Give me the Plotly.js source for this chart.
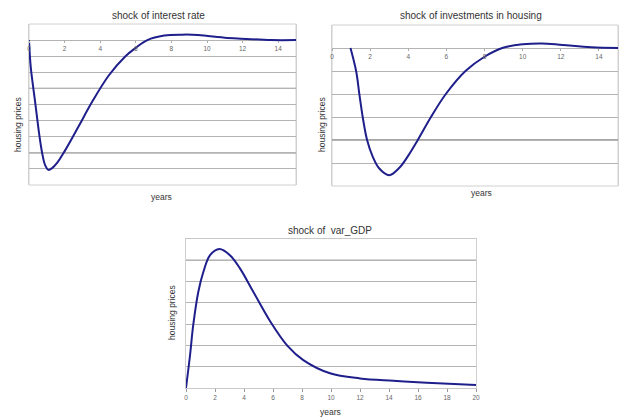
<!DOCTYPE html>
<html><head><meta charset="utf-8">
<script src="https://cdn.plot.ly/plotly-3.0.1.min.js"></script>
<style>html,body{margin:0;padding:0;background:#fff}#c{width:627px;height:418px}</style>
</head><body><div id="c"></div>
<script>
// Chart 1: shock of interest rate
const t1 = [0, 0.1, 0.34, 0.58, 0.72, 0.9, 1.09, 1.3, 1.6, 2.03, 2.79, 3.54, 4.48, 5.42, 6.0, 6.65, 7.6, 8.6, 9.5, 10.05, 11.0, 11.9, 13.6, 15];
const v1 = [0, -1.7, -3.8, -5.9, -6.9, -7.75, -8.06, -7.95, -7.6, -6.85, -5.35, -3.85, -2.2, -1.0, -0.48, 0.0, 0.28, 0.34, 0.32, 0.25, 0.15, 0.09, 0.0, 0.0];
// Chart 2: shock of investments in housing
const t2 = [0.97, 1.27, 1.44, 1.61, 1.84, 2.14, 2.48, 3.0, 3.52, 4.0, 4.5, 5.19, 5.97, 7.0, 8.0, 8.93, 10.0, 11.0, 12.1, 13.6, 15];
const v2 = [0, -1.02, -2.04, -3.0, -4.0, -4.73, -5.24, -5.53, -5.22, -4.68, -4.0, -3.0, -2.0, -1.0, -0.38, 0.0, 0.16, 0.2, 0.13, 0.03, 0.0];
// Chart 3: shock of var_GDP
const t3 = [0, 0.28, 0.5, 0.85, 1.2, 1.66, 2.3, 3.03, 3.72, 4.64, 5.79, 7.0, 8.09, 9.93, 12, 14.3, 16.6, 20];
const v3 = [0, 1.55, 2.96, 4.52, 5.46, 6.24, 6.53, 6.24, 5.62, 4.52, 3.15, 1.98, 1.31, 0.69, 0.45, 0.34, 0.25, 0.14];

const titles = ["shock of interest rate", "shock of investments in housing", "shock of  var_GDP"];
const xTicks12 = [0, 2, 4, 6, 8, 10, 12, 14];
const xTicks3 = [0, 2, 4, 6, 8, 10, 12, 14, 16, 18, 20];
const yRange1 = [-9, 1], yRange2 = [-6, 1], yRange3 = [0, 7];

const W = 627, H = 418;
const dom = (a, b) => [a / W, b / W];
const domY = (top, bot) => [1 - bot / H, 1 - top / H];
const x1d = dom(29, 296), y1d = domY(24, 185);
const x2d = dom(332, 618), y2d = domY(25, 186);
const x3d = dom(186, 476), y3d = domY(239, 388);
const zeroPos = (yd, r) => yd[0] + (0 - r[0]) / (r[1] - r[0]) * (yd[1] - yd[0]);

const lineStyle = {color: '#1f1f8c', width: 2, shape: 'spline', smoothing: 1};
const data = [
  {x: t1, y: v1, xaxis: 'x', yaxis: 'y', mode: 'lines', line: lineStyle, hoverinfo: 'skip'},
  {x: t2, y: v2, xaxis: 'x2', yaxis: 'y2', mode: 'lines', line: lineStyle, hoverinfo: 'skip'},
  {x: t3, y: v3, xaxis: 'x3', yaxis: 'y3', mode: 'lines', line: lineStyle, hoverinfo: 'skip'}
];

const tickFont = {family: 'Liberation Sans, Arial, sans-serif', size: 6.5, color: '#666'};
const xFree = (dm, yd, yr) => ({
  domain: dm, anchor: 'free', position: zeroPos(yd, yr), range: [0, 15],
  tickvals: xTicks12, ticktext: xTicks12.map(String), tickfont: tickFont,
  ticks: 'outside', ticklen: 2, tickcolor: '#aaa', showgrid: false, zeroline: false,
  showline: false, fixedrange: true
});
const yAx = (dm, r, anchor) => ({
  domain: dm, range: r, dtick: 1, showticklabels: false, ticks: '',
  gridcolor: '#b4b4b4', gridwidth: 1, zeroline: false, anchor: anchor,
  showline: true, mirror: true, linecolor: '#d0d0d0', linewidth: 1, fixedrange: true
});

const frame = (xr, yr) => ({type: 'rect', xref: xr + ' domain', yref: yr + ' domain', x0: 0, x1: 1, y0: 0, y1: 1,
  line: {color: '#d0d0d0', width: 1}, layer: 'below'});
const dark = (xr, yr, yv) => ({type: 'line', xref: xr + ' domain', yref: yr, x0: 0, x1: 1, y0: yv, y1: yv,
  line: {color: '#8a8a8a', width: 1.3}, layer: 'below'});

const fnt = (s, c) => ({family: 'Liberation Sans, Arial, sans-serif', size: s, color: c || '#333'});
const ann = (text, x, y, size, angle) => ({text: text, xref: 'paper', yref: 'paper', x: x / W, y: 1 - y / H,
  showarrow: false, font: fnt(size), textangle: angle || 0, xanchor: 'center', yanchor: 'middle'});

const layout = {
  width: W, height: H, margin: {l: 0, r: 0, t: 0, b: 0},
  paper_bgcolor: '#fff', plot_bgcolor: '#fff', showlegend: false,
  xaxis: xFree(x1d, y1d, yRange1),
  yaxis: yAx(y1d, yRange1, 'x'),
  xaxis2: xFree(x2d, y2d, yRange2),
  yaxis2: yAx(y2d, yRange2, 'x2'),
  xaxis3: {domain: x3d, anchor: 'y3', range: [0, 20], tickvals: xTicks3, ticktext: xTicks3.map(String),
    tickfont: tickFont, ticks: 'outside', ticklen: 3, tickcolor: '#999', showgrid: false, zeroline: false,
    showline: true, mirror: true, linecolor: '#c8c8c8', fixedrange: true},
  yaxis3: yAx(y3d, yRange3, 'x3'),
  shapes: [
    frame('x', 'y'), frame('x2', 'y2'),
    dark('x', 'y', -3), dark('x', 'y', -7), dark('x2', 'y2', -4),
    {type: 'line', xref: 'x3 domain', yref: 'y3', x0: 0, x1: 1, y0: 6, y1: 6, line: {color: '#555', width: 1.2}, layer: 'below'}
  ],
  annotations: [
    ann(titles[0], 158, 15, 10),
    ann(titles[1], 471, 16, 10),
    ann(titles[2], 330, 230, 10),
    ann('housing prices', 18, 125, 8.5, -90),
    ann('housing prices', 322, 125, 8.5, -90),
    ann('housing prices', 172, 313, 8.5, -90),
    ann('years', 161, 197, 8.5),
    ann('years', 481, 193, 8.5),
    ann('years', 330, 412, 8.5)
  ]
};
Plotly.newPlot('c', data, layout, {staticPlot: true, displayModeBar: false});
</script></body></html>
